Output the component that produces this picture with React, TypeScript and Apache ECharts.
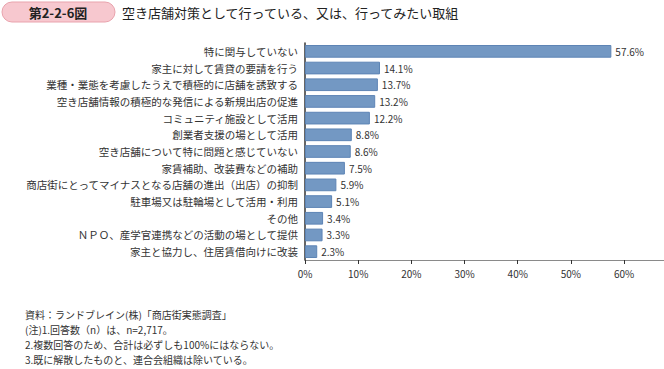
import React, { useEffect, useRef } from "react";
import * as echarts from "echarts";

const categories = [
  "特に関与していない",
  "家主に対して賃貸の要請を行う",
  "業種・業態を考慮したうえで積極的に店舗を誘致する",
  "空き店舗情報の積極的な発信による新規出店の促進",
  "コミュニティ施設として活用",
  "創業者支援の場として活用",
  "空き店舗について特に問題と感じていない",
  "家賃補助、改装費などの補助",
  "商店街にとってマイナスとなる店舗の進出（出店）の抑制",
  "駐車場又は駐輪場として活用・利用",
  "その他",
  "ＮＰＯ、産学官連携などの活動の場として提供",
  "家主と協力し、住居賃借向けに改装",
];
const values = [57.6, 14.1, 13.7, 13.2, 12.2, 8.8, 8.6, 7.5, 5.9, 5.1, 3.4, 3.3, 2.3];
const tickValues = [0, 10, 20, 30, 40, 50, 60];
const figNo = "第2-2-6図";
const title = "空き店舗対策として行っている、又は、行ってみたい取組";
const notes = [
  "資料：ランドブレイン(株)「商店街実態調査」",
  "(注)1.回答数（n）は、n=2,717。",
  "2.複数回答のため、合計は必ずしも100%にはならない。",
  "3.既に解散したものと、連合会組織は除いている。",
];

const FONT = "'Noto Sans CJK JP', 'Noto Sans', sans-serif";

export default function App() {
  const ref = useRef<HTMLDivElement>(null);
  useEffect(() => {
    if (!ref.current) return;
    const chart = echarts.init(ref.current, null, { renderer: "svg" });
    chart.setOption({
      animation: false,
      backgroundColor: "#ffffff",
      textStyle: { fontFamily: FONT },
      grid: { left: 305, top: 43, width: 359, height: 217, containLabel: false },
      xAxis: {
        type: "value",
        min: 0,
        max: 67.5,
        axisLine: { show: true, lineStyle: { color: "#8a8a8a", width: 1 } },
        axisTick: {
          show: true,
          customValues: tickValues,
          length: 4,
          lineStyle: { color: "#333" },
        },
        axisLabel: {
          customValues: tickValues,
          formatter: (v: number) => `${v}%`,
          fontSize: 10,
          color: "#333",
          margin: 8,
          fontFamily: FONT,
        },
        splitLine: { show: false },
      },
      yAxis: {
        type: "category",
        data: categories,
        inverse: true,
        axisLine: { show: true, lineStyle: { color: "#333", width: 1.5 } },
        axisTick: { show: false },
        axisLabel: {
          fontSize: 10.5,
          color: "#333",
          margin: 7,
          fontFamily: FONT,
        },
      },
      series: [
        {
          type: "bar",
          data: values,
          barCategoryGap: "24%",
          itemStyle: { color: "#7398c3", borderColor: "#5d84b5", borderWidth: 1 },
          label: {
            show: true,
            position: "right",
            distance: 4,
            formatter: (p: any) => `${Number(p.value).toFixed(1)}%`,
            fontSize: 10,
            color: "#333",
            fontFamily: FONT,
          },
        },
      ],
      graphic: [
        {
          type: "rect",
          shape: { x: 2, y: 2, width: 113, height: 20, r: 10 },
          style: { fill: "#f7c8cf", stroke: "#e9a3ad", lineWidth: 1 },
        },
        {
          type: "text",
          x: 58,
          y: 12,
          style: {
            text: figNo,
            fill: "#222",
            font: `bold 13px ${FONT}`,
            textAlign: "center",
            textVerticalAlign: "middle",
          },
        },
        {
          type: "text",
          x: 122,
          y: 12,
          style: {
            text: title,
            fill: "#222",
            font: `13px ${FONT}`,
            textAlign: "left",
            textVerticalAlign: "middle",
          },
        },
        ...notes.map((t, i) => ({
          type: "text",
          x: 25,
          y: 314 + i * 15,
          style: {
            text: t,
            fill: "#333",
            font: `10px ${FONT}`,
            textAlign: "left",
            textVerticalAlign: "middle",
          },
        })),
      ],
    });
    return () => chart.dispose();
  }, []);
  return (
    <div
      ref={ref}
      style={{ position: "absolute", left: 0, top: 0, width: 664, height: 369 }}
    />
  );
}
